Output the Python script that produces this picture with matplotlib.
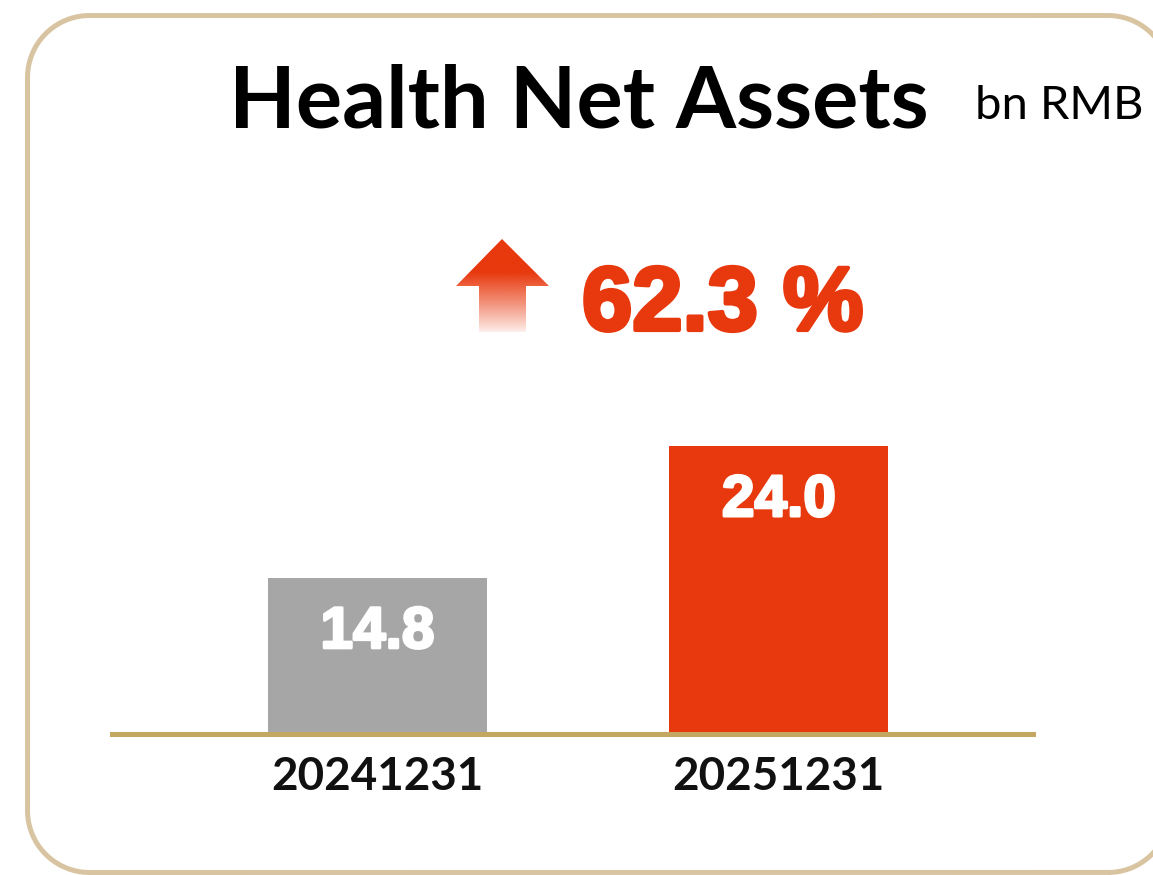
import matplotlib
matplotlib.use("Agg")
import matplotlib.pyplot as plt
import matplotlib.patheffects as pe
import numpy as np
from matplotlib.patches import Polygon
from matplotlib.lines import Line2D
from matplotlib.transforms import IdentityTransform

categories = ["20241231", "20251231"]
values = [14.8, 24.0]
value_labels = ["14.8", "24.0"]
bar_colors = ["#A6A6A6", "#E8380D"]
title = "Health Net Assets"
unit = "bn RMB"
growth_label = "62.3 %"

RED = "#E8380D"
GOLD = "#C4A862"
BORDER = "#D9C4A2"

W, H = 1153, 875
fig = plt.figure(figsize=(W / 100, H / 100), dpi=100)
fig.patch.set_facecolor("white")
renderer = fig.canvas.get_renderer()


def fit_width(t, target_px):
    w = t.get_window_extent(renderer).width
    t.set_fontsize(t.get_fontsize() * target_px / w)


# rounded border drawn as a polyline (pixel coordinates, origin bottom-left)
bx0, bx1 = 27.5, 1170
by0, by1 = H - 872.5, H - 15.5
r = 62
corners = [(bx1 - r, by1 - r, 0, 90), (bx0 + r, by1 - r, 90, 180),
           (bx0 + r, by0 + r, 180, 270), (bx1 - r, by0 + r, 270, 360)]
px, py = [], []
for cx, cy, a0, a1 in corners:
    th = np.radians(np.linspace(a0, a1, 40))
    px.extend(cx + r * np.cos(th))
    py.extend(cy + r * np.sin(th))
px.append(px[0])
py.append(py[0])
fig.lines.append(Line2D(px, py, transform=IdentityTransform(), color=BORDER,
                        linewidth=3.6, solid_joinstyle="round"))

# axes
ax_left, ax_right = 112, 1033
ax_bottom_px = H - 734
ax_top_px = H - 200
ax = fig.add_axes([ax_left / W, ax_bottom_px / H, (ax_right - ax_left) / W,
                   (ax_top_px - ax_bottom_px) / H])
ymin = 3.9
px_per_unit = 288 / (values[1] - ymin)
ymax = ymin + (ax_top_px - ax_bottom_px) / px_per_unit
ax.set_ylim(ymin, ymax)
ax.set_xlim(-0.661, 1.633)

x = np.arange(len(categories))
bars = ax.bar(x, values, width=0.545, color=bar_colors, zorder=2)
for b, lab in zip(bars, value_labels):
    t = ax.annotate(lab, (b.get_x() + b.get_width() / 2, b.get_height()),
                    xytext=(0, -50.5), textcoords="offset points",
                    ha="center", va="baseline", color="white", fontsize=38,
                    fontweight="bold", family="Liberation Sans", zorder=3,
                    path_effects=[pe.withStroke(linewidth=2.0, foreground="white")])
    fit_width(t, 114)

for s in ["top", "right", "left"]:
    ax.spines[s].set_visible(False)
ax.spines["bottom"].set_color(GOLD)
ax.spines["bottom"].set_linewidth(3.6)
ax.spines["bottom"].set_zorder(4)
ax.set_yticks([])
ax.set_xticks(x)
ax.set_xticklabels([])
ax.tick_params(axis="x", length=0)
ax.set_facecolor("none")

for xi, cat in zip(x, categories):
    t = ax.annotate(cat, (xi, ymin), xytext=(0, -40), textcoords="offset points",
                    ha="center", va="baseline", fontsize=34, fontweight="bold",
                    family="Lato", color="#111111", annotation_clip=False)
    fit_width(t, 212)

# title
t = fig.text(579 / W, 1 - 127 / H, title, ha="center", va="baseline",
             fontsize=61, fontweight="bold", family="Lato", color="black")
fit_width(t, 700)
t = fig.text(1059 / W, 1 - 119 / H, unit, ha="center", va="baseline",
             fontsize=30, family="Lato", color="black")
fit_width(t, 168)

# growth text
t = fig.text(582 / W, 1 - 330 / H, growth_label, ha="left", va="baseline",
             fontsize=63, fontweight="bold", family="Liberation Sans", color=RED,
             path_effects=[pe.withStroke(linewidth=3, foreground=RED)])
fit_width(t, 281)

# gradient arrow
pts = [(502, H - 239), (549, H - 286), (526, H - 286), (526, H - 332),
       (479, H - 332), (479, H - 286), (456, H - 286)]
arrow = Polygon(pts, closed=True, transform=IdentityTransform(),
                facecolor="none", edgecolor="none")
fig.patches.append(arrow)
gax = fig.add_axes([0, 0, 1, 1])
gax.set_xlim(0, W)
gax.set_ylim(0, H)
gax.axis("off")
ny = 200
yy = np.linspace(H - 332, H - 239, ny)
alpha = np.clip((yy - (H - 336)) / ((H - 272) - (H - 336)), 0, 1) ** 0.9
rgba = np.zeros((ny, 1, 4))
rgb = matplotlib.colors.to_rgb(RED)
rgba[..., 0], rgba[..., 1], rgba[..., 2] = rgb
rgba[:, 0, 3] = alpha
im = gax.imshow(rgba, extent=(456, 549, H - 332, H - 239), origin="lower",
                aspect="auto", interpolation="bilinear")
im.set_clip_path(arrow)

fig.savefig("out.png", dpi=100)
